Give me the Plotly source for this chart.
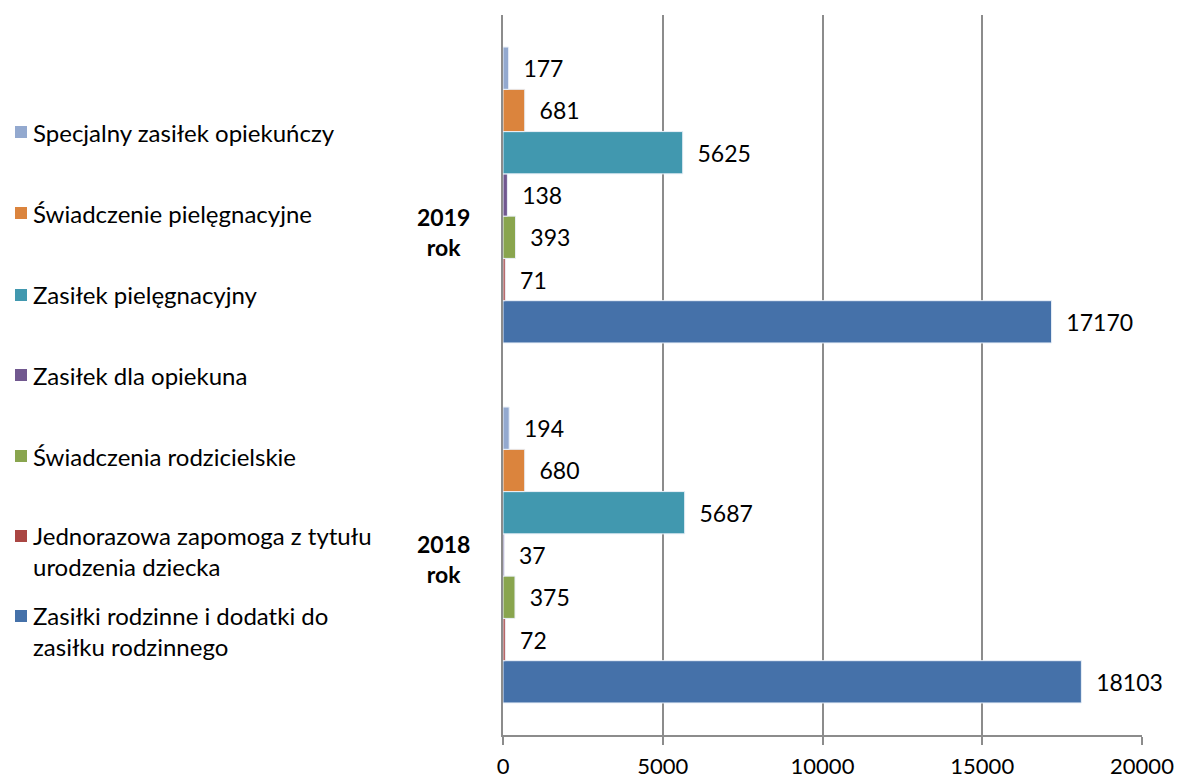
import plotly.graph_objects as go

categories = ["2018 rok", "2019 rok"]
series_names = [
    "Zasiłki rodzinne i dodatki do zasiłku rodzinnego",
    "Jednorazowa zapomoga z tytułu urodzenia dziecka",
    "Świadczenia rodzicielskie",
    "Zasiłek dla opiekuna",
    "Zasiłek pielęgnacyjny",
    "Świadczenie pielęgnacyjne",
    "Specjalny zasiłek opiekuńczy",
]
legend_labels = [
    "Zasiłki rodzinne i dodatki do<br>zasiłku rodzinnego",
    "Jednorazowa zapomoga z tytułu<br>urodzenia dziecka",
    "Świadczenia rodzicielskie",
    "Zasiłek dla opiekuna",
    "Zasiłek pielęgnacyjny",
    "Świadczenie pielęgnacyjne",
    "Specjalny zasiłek opiekuńczy",
]
values_2018 = [18103, 72, 375, 37, 5687, 680, 194]
values_2019 = [17170, 71, 393, 138, 5625, 681, 177]
colors = ["#4571A9", "#AA4643", "#89A54E", "#71588F", "#4198AF", "#DB843D", "#93A9CF"]
x_ticks = [0, 5000, 10000, 15000, 20000]

FONT = "Lato"

W, H = 1177, 780
PL, PR, PT, PB = 503, 1142, 15, 735
PW, PH = PR - PL, PB - PT


def px(x):
    return (x - PL) / PW


def py(y):
    return (PB - y) / PH


fig = go.Figure()
for i, name in enumerate(series_names):
    vals = [values_2018[i], values_2019[i]]
    fig.add_trace(go.Bar(
        y=categories, x=vals, name=name, orientation="h",
        marker=dict(color=colors[i], line=dict(color="#EAF0F8", width=1)),
        text=[f"{v}" for v in vals],
        texttemplate="  %{text}",
        textposition="outside", cliponaxis=False,
        textfont=dict(family=FONT, size=23, color="#000000"),
        showlegend=False,
    ))

# legend drawn manually (left side)
legend_y = [631, 551, 456, 375, 295, 213, 132]
marker_y = [616, 536, 456, 375, 295, 213, 132]
for i in range(len(series_names)):
    fig.add_shape(type="rect", xref="paper", yref="paper",
                  x0=px(15), x1=px(27),
                  y0=py(marker_y[i] + 6), y1=py(marker_y[i] - 6),
                  fillcolor=colors[i], line=dict(width=0))
    fig.add_annotation(xref="paper", yref="paper",
                       x=px(31), y=py(legend_y[i]),
                       text=legend_labels[i], showarrow=False,
                       xanchor="left", yanchor="middle", align="left",
                       font=dict(family=FONT, size=24, color="#000000"))

# category labels
cat_label_y = [559, 232]
for i, c in enumerate(categories):
    fig.add_annotation(xref="paper", yref="paper",
                       x=px(443), y=py(cat_label_y[i]),
                       text=f"<b>{c.split(' ')[0]}<br>{c.split(' ')[1]}</b>",
                       showarrow=False, xanchor="center", yanchor="middle",
                       font=dict(family=FONT, size=23, color="#000000"))

fig.update_layout(
    width=W, height=H,
    margin=dict(l=PL, r=W - PR, t=PT, b=H - PB, autoexpand=False),
    barmode="group", bargap=0.178, bargroupgap=0,
    plot_bgcolor="white", paper_bgcolor="white",
    font=dict(family=FONT, size=20, color="#000000"),
)
fig.update_xaxes(
    range=[0, 20000], tickvals=x_ticks, ticktext=[str(t) for t in x_ticks],
    showgrid=True, gridcolor="#8C8C8C", gridwidth=1.5,
    showline=True, linecolor="#8C8C8C", linewidth=1.5,
    ticks="outside", ticklen=8, tickcolor="#8C8C8C", tickwidth=1.5,
    tickfont=dict(family=FONT, size=22), zeroline=False,
    ticklabelstandoff=3, automargin=False,
)
fig.update_yaxes(
    categoryorder="array", categoryarray=categories,
    showticklabels=False, showgrid=False, zeroline=False,
    showline=True, linecolor="#8C8C8C", linewidth=1.5, automargin=False,
)

fig.write_html(
    "out.html",
    config={"displayModeBar": False},
    post_script="document.body.style.margin='0';document.body.style.overflow='hidden';",
)
